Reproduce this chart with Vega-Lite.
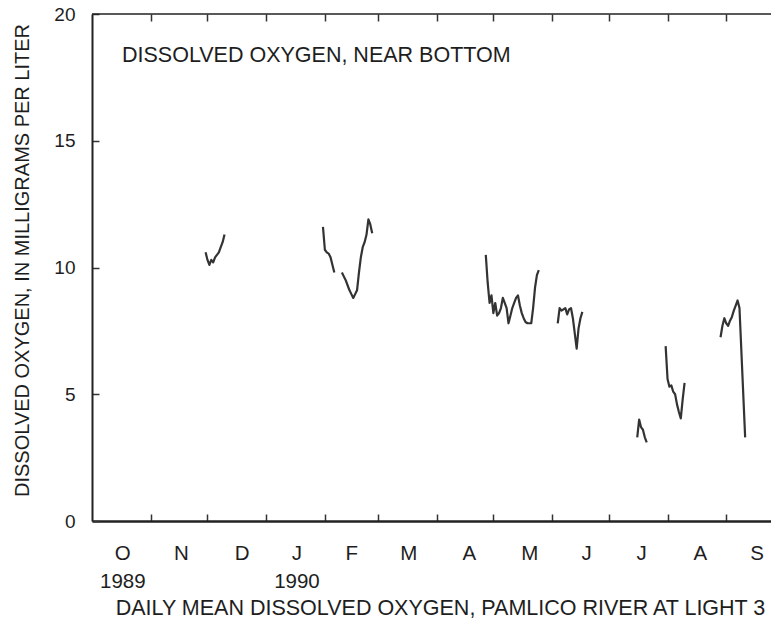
{
  "$schema": "https://vega.github.io/schema/vega-lite/v6.json",
  "width": 679,
  "height": 507,
  "autosize": {"type": "none"},
  "padding": {"left": 92, "top": 14, "right": 0, "bottom": 103},
  "background": "white",
  "config": {"view": {"stroke": null}, "font": "Liberation Sans", "axis": {"grid": false}},
  "resolve": {"axis": {"x": "independent"}},
  "layer": [
    {
      "data": {"values": [
        {"date": "1989-11-30", "do": 10.6, "seg": "s1"},
        {"date": "1989-12-01", "do": 10.3, "seg": "s1"},
        {"date": "1989-12-02", "do": 10.1, "seg": "s1"},
        {"date": "1989-12-03", "do": 10.3, "seg": "s1"},
        {"date": "1989-12-04", "do": 10.2, "seg": "s1"},
        {"date": "1989-12-05", "do": 10.4, "seg": "s1"},
        {"date": "1989-12-06", "do": 10.5, "seg": "s1"},
        {"date": "1989-12-07", "do": 10.6, "seg": "s1"},
        {"date": "1989-12-08", "do": 10.8, "seg": "s1"},
        {"date": "1989-12-09", "do": 11.0, "seg": "s1"},
        {"date": "1989-12-10", "do": 11.3, "seg": "s1"},
        {"date": "1990-01-31", "do": 11.6, "seg": "s2"},
        {"date": "1990-02-01", "do": 10.7, "seg": "s2"},
        {"date": "1990-02-02", "do": 10.6, "seg": "s2"},
        {"date": "1990-02-03", "do": 10.55, "seg": "s2"},
        {"date": "1990-02-04", "do": 10.4, "seg": "s2"},
        {"date": "1990-02-05", "do": 10.1, "seg": "s2"},
        {"date": "1990-02-06", "do": 9.8, "seg": "s2"},
        {"date": "1990-02-10", "do": 9.8, "seg": "s3"},
        {"date": "1990-02-11", "do": 9.65, "seg": "s3"},
        {"date": "1990-02-12", "do": 9.5, "seg": "s3"},
        {"date": "1990-02-13", "do": 9.3, "seg": "s3"},
        {"date": "1990-02-14", "do": 9.1, "seg": "s3"},
        {"date": "1990-02-15", "do": 8.95, "seg": "s3"},
        {"date": "1990-02-16", "do": 8.8, "seg": "s3"},
        {"date": "1990-02-17", "do": 8.95, "seg": "s3"},
        {"date": "1990-02-18", "do": 9.1, "seg": "s3"},
        {"date": "1990-02-19", "do": 9.8, "seg": "s3"},
        {"date": "1990-02-20", "do": 10.4, "seg": "s3"},
        {"date": "1990-02-21", "do": 10.8, "seg": "s3"},
        {"date": "1990-02-22", "do": 11.0, "seg": "s3"},
        {"date": "1990-02-23", "do": 11.3, "seg": "s3"},
        {"date": "1990-02-24", "do": 11.9, "seg": "s3"},
        {"date": "1990-02-25", "do": 11.7, "seg": "s3"},
        {"date": "1990-02-26", "do": 11.35, "seg": "s3"},
        {"date": "1990-04-27", "do": 10.5, "seg": "s4"},
        {"date": "1990-04-28", "do": 9.4, "seg": "s4"},
        {"date": "1990-04-29", "do": 8.6, "seg": "s4"},
        {"date": "1990-04-30", "do": 8.9, "seg": "s4"},
        {"date": "1990-05-01", "do": 8.2, "seg": "s4"},
        {"date": "1990-05-02", "do": 8.6, "seg": "s4"},
        {"date": "1990-05-03", "do": 8.1, "seg": "s4"},
        {"date": "1990-05-04", "do": 8.2, "seg": "s4"},
        {"date": "1990-05-05", "do": 8.4, "seg": "s4"},
        {"date": "1990-05-06", "do": 8.8, "seg": "s4"},
        {"date": "1990-05-07", "do": 8.6, "seg": "s4"},
        {"date": "1990-05-08", "do": 8.4, "seg": "s4"},
        {"date": "1990-05-09", "do": 7.8, "seg": "s4"},
        {"date": "1990-05-10", "do": 8.1, "seg": "s4"},
        {"date": "1990-05-11", "do": 8.4, "seg": "s4"},
        {"date": "1990-05-12", "do": 8.6, "seg": "s4"},
        {"date": "1990-05-13", "do": 8.8, "seg": "s4"},
        {"date": "1990-05-14", "do": 8.9, "seg": "s4"},
        {"date": "1990-05-15", "do": 8.5, "seg": "s4"},
        {"date": "1990-05-16", "do": 8.2, "seg": "s4"},
        {"date": "1990-05-17", "do": 8.0, "seg": "s4"},
        {"date": "1990-05-18", "do": 7.85, "seg": "s4"},
        {"date": "1990-05-19", "do": 7.8, "seg": "s4"},
        {"date": "1990-05-20", "do": 7.8, "seg": "s4"},
        {"date": "1990-05-21", "do": 7.8, "seg": "s4"},
        {"date": "1990-05-22", "do": 8.4, "seg": "s4"},
        {"date": "1990-05-23", "do": 9.2, "seg": "s4"},
        {"date": "1990-05-24", "do": 9.7, "seg": "s4"},
        {"date": "1990-05-25", "do": 9.9, "seg": "s4"},
        {"date": "1990-06-04", "do": 7.8, "seg": "s5"},
        {"date": "1990-06-05", "do": 8.4, "seg": "s5"},
        {"date": "1990-06-06", "do": 8.3, "seg": "s5"},
        {"date": "1990-06-07", "do": 8.35, "seg": "s5"},
        {"date": "1990-06-08", "do": 8.4, "seg": "s5"},
        {"date": "1990-06-09", "do": 8.15, "seg": "s5"},
        {"date": "1990-06-10", "do": 8.35, "seg": "s5"},
        {"date": "1990-06-11", "do": 8.4, "seg": "s5"},
        {"date": "1990-06-12", "do": 8.0, "seg": "s5"},
        {"date": "1990-06-13", "do": 7.4, "seg": "s5"},
        {"date": "1990-06-14", "do": 6.8, "seg": "s5"},
        {"date": "1990-06-15", "do": 7.6, "seg": "s5"},
        {"date": "1990-06-16", "do": 8.0, "seg": "s5"},
        {"date": "1990-06-17", "do": 8.25, "seg": "s5"},
        {"date": "1990-07-16", "do": 3.3, "seg": "s6"},
        {"date": "1990-07-17", "do": 4.0, "seg": "s6"},
        {"date": "1990-07-18", "do": 3.7, "seg": "s6"},
        {"date": "1990-07-19", "do": 3.6, "seg": "s6"},
        {"date": "1990-07-20", "do": 3.3, "seg": "s6"},
        {"date": "1990-07-21", "do": 3.1, "seg": "s6"},
        {"date": "1990-07-31", "do": 6.9, "seg": "s7"},
        {"date": "1990-08-01", "do": 5.6, "seg": "s7"},
        {"date": "1990-08-02", "do": 5.3, "seg": "s7"},
        {"date": "1990-08-03", "do": 5.35, "seg": "s7"},
        {"date": "1990-08-04", "do": 5.1, "seg": "s7"},
        {"date": "1990-08-05", "do": 5.0, "seg": "s7"},
        {"date": "1990-08-06", "do": 4.6, "seg": "s7"},
        {"date": "1990-08-07", "do": 4.3, "seg": "s7"},
        {"date": "1990-08-08", "do": 4.05, "seg": "s7"},
        {"date": "1990-08-09", "do": 4.8, "seg": "s7"},
        {"date": "1990-08-10", "do": 5.45, "seg": "s7"},
        {"date": "1990-08-29", "do": 7.25, "seg": "s8"},
        {"date": "1990-08-30", "do": 7.7, "seg": "s8"},
        {"date": "1990-08-31", "do": 8.0, "seg": "s8"},
        {"date": "1990-09-01", "do": 7.8, "seg": "s8"},
        {"date": "1990-09-02", "do": 7.7, "seg": "s8"},
        {"date": "1990-09-03", "do": 7.9, "seg": "s8"},
        {"date": "1990-09-04", "do": 8.05, "seg": "s8"},
        {"date": "1990-09-05", "do": 8.3, "seg": "s8"},
        {"date": "1990-09-06", "do": 8.5, "seg": "s8"},
        {"date": "1990-09-07", "do": 8.7, "seg": "s8"},
        {"date": "1990-09-08", "do": 8.4, "seg": "s8"},
        {"date": "1990-09-11", "do": 3.3, "seg": "s8"}
      ]},
      "mark": {"type": "line", "color": "#333333", "strokeWidth": 2.2, "strokeJoin": "round"},
      "encoding": {
        "x": {
          "field": "date", "type": "temporal",
          "scale": {"type": "utc", "domain": [
            {"year": 1989, "month": 10, "date": 1, "utc": true},
            {"year": 1990, "month": 9, "date": 24, "hours": 15, "minutes": 36, "utc": true}
          ]},
          "axis": {
            "orient": "bottom",
            "values": [
              {"year": 1989, "month": 11, "date": 1, "utc": true},
              {"year": 1989, "month": 12, "date": 1, "utc": true},
              {"year": 1990, "month": 1, "date": 1, "utc": true},
              {"year": 1990, "month": 2, "date": 1, "utc": true},
              {"year": 1990, "month": 3, "date": 1, "utc": true},
              {"year": 1990, "month": 4, "date": 1, "utc": true},
              {"year": 1990, "month": 5, "date": 1, "utc": true},
              {"year": 1990, "month": 6, "date": 1, "utc": true},
              {"year": 1990, "month": 7, "date": 1, "utc": true},
              {"year": 1990, "month": 8, "date": 1, "utc": true},
              {"year": 1990, "month": 9, "date": 1, "utc": true}
            ],
            "labels": false,
            "tickSize": -7, "tickWidth": 1.5, "tickColor": "#333",
            "domain": true, "domainWidth": 2.5, "domainColor": "#222",
            "title": "DAILY MEAN DISSOLVED OXYGEN, PAMLICO RIVER AT LIGHT 3",
            "titleX": 348, "titleY": 87, "titleAlign": "center", "titleBaseline": "middle",
            "titleFontSize": 21.5, "titleFontWeight": "normal", "titleColor": "#1e1e1e"
          }
        },
        "y": {
          "field": "do", "type": "quantitative",
          "scale": {"domain": [0, 20], "nice": false},
          "axis": {
            "orient": "left",
            "values": [0, 5, 10, 15, 20],
            "tickSize": -7, "tickWidth": 1.5, "tickColor": "#333",
            "domainWidth": 2, "domainColor": "#222",
            "labelFontSize": 19, "labelPadding": 24, "labelColor": "#1e1e1e",
            "title": "DISSOLVED OXYGEN, IN MILLIGRAMS PER LITER",
            "titleX": -70, "titleY": 246, "titleAngle": -90, "titleAlign": "center", "titleBaseline": "middle",
            "titleFontSize": 20, "titleFontWeight": "normal", "titleColor": "#1e1e1e"
          }
        },
        "detail": {"field": "seg"}
      }
    },
    {
      "data": {"values": [{"label": "DISSOLVED OXYGEN, NEAR BOTTOM"}]},
      "mark": {"type": "text", "align": "left", "baseline": "middle", "fontSize": 21.5, "color": "#1e1e1e"},
      "encoding": {
        "text": {"field": "label", "type": "nominal"},
        "x": {
          "datum": {"year": 1989, "month": 10, "date": 16, "hours": 20, "utc": true}, "type": "temporal",
          "axis": {
            "orient": "bottom",
            "values": [
              {"year": 1989, "month": 10, "date": 17, "utc": true},
              {"year": 1989, "month": 11, "date": 17, "utc": true},
              {"year": 1989, "month": 12, "date": 19, "utc": true},
              {"year": 1990, "month": 1, "date": 17, "utc": true},
              {"year": 1990, "month": 2, "date": 15, "utc": true},
              {"year": 1990, "month": 3, "date": 17, "utc": true},
              {"year": 1990, "month": 4, "date": 18, "utc": true},
              {"year": 1990, "month": 5, "date": 20, "utc": true},
              {"year": 1990, "month": 6, "date": 19, "utc": true},
              {"year": 1990, "month": 7, "date": 18, "utc": true},
              {"year": 1990, "month": 8, "date": 18, "utc": true},
              {"year": 1990, "month": 9, "date": 17, "utc": true}
            ],
            "labelExpr": "utcmonth(datum.value) == 9 ? ['O', '1989'] : utcmonth(datum.value) == 0 ? ['J', '1990'] : slice(utcFormat(datum.value, '%b'), 0, 1)",
            "ticks": false, "domain": false,
            "labelFontSize": 20.5, "labelPadding": 22, "labelLineHeight": 28, "labelColor": "#1e1e1e",
            "labelAlign": "center", "labelBaseline": "top", "labelOverlap": false, "labelFlush": false,
            "title": null
          }
        },
        "y": {"datum": 18.35, "type": "quantitative"}
      }
    },
    {
      "data": {"values": [{"border": "top"}]},
      "mark": {"type": "rule", "color": "#222", "strokeWidth": 1.5},
      "encoding": {
        "x": {
          "datum": {"year": 1989, "month": 10, "date": 1, "utc": true}, "type": "temporal",
          "axis": {
            "orient": "top",
            "values": [
              {"year": 1989, "month": 11, "date": 1, "utc": true},
              {"year": 1989, "month": 12, "date": 1, "utc": true},
              {"year": 1990, "month": 1, "date": 1, "utc": true},
              {"year": 1990, "month": 2, "date": 1, "utc": true},
              {"year": 1990, "month": 3, "date": 1, "utc": true},
              {"year": 1990, "month": 4, "date": 1, "utc": true},
              {"year": 1990, "month": 5, "date": 1, "utc": true},
              {"year": 1990, "month": 6, "date": 1, "utc": true},
              {"year": 1990, "month": 7, "date": 1, "utc": true},
              {"year": 1990, "month": 8, "date": 1, "utc": true},
              {"year": 1990, "month": 9, "date": 1, "utc": true}
            ],
            "labels": false, "domain": false,
            "tickSize": -7, "tickWidth": 1.5, "tickColor": "#333",
            "title": null
          }
        },
        "x2": {"datum": {"year": 1990, "month": 9, "date": 24, "hours": 15, "minutes": 36, "utc": true}},
        "y": {"datum": 20, "type": "quantitative"}
      }
    }
  ]
}
